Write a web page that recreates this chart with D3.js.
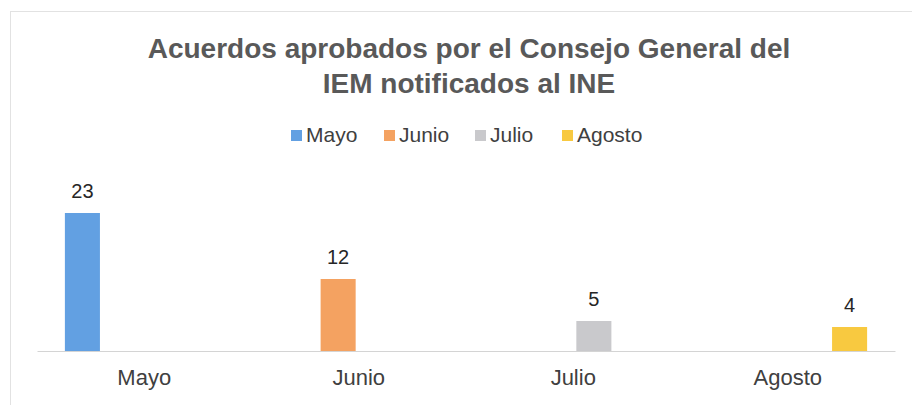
<!DOCTYPE html>
<html>
<head>
  <meta charset="utf-8">
  <title>Acuerdos aprobados</title>
  <script src="https://d3js.org/d3.v7.min.js"></script>
  <style>
    body { margin: 0; background: #fff; }
  </style>
</head>
<body>
  <div id="chart"></div>
  <script>
    // data
    const categories = ["Mayo", "Junio", "Julio", "Agosto"];
    const series = ["Mayo", "Junio", "Julio", "Agosto"];
    const values = [23, 12, 5, 4];          // one value per month, drawn in its own series slot
    const colors = ["#62a0e2", "#f4a261", "#c9c9cc", "#f8c940"];
    const titleLines = ["Acuerdos aprobados por el Consejo General del", "IEM notificados al INE"];

    const width = 912, height = 405;
    const baseY = 351;
    const font = "'Liberation Sans', Arial, sans-serif";

    const svg = d3.select("#chart")
      .append("svg")
      .attr("width", width)
      .attr("height", height)
      .style("font-family", font);

    // faint chart frame
    svg.append("rect")
      .attr("x", 10.5).attr("y", 11.5)
      .attr("width", 920).attr("height", 420)
      .attr("fill", "none")
      .attr("stroke", "#e2e2e2");

    // title
    svg.append("text")
      .attr("x", 469).attr("y", 58)
      .attr("text-anchor", "middle")
      .attr("font-size", 28)
      .attr("font-weight", "bold")
      .attr("fill", "#595959")
      .selectAll("tspan")
      .data(titleLines)
      .join("tspan")
      .attr("x", 469)
      .attr("dy", (d, i) => i === 0 ? 0 : 35)
      .text(d => d);

    // legend
    const legendX = [291, 384, 475, 562];
    const legend = svg.append("g");
    series.forEach((s, i) => {
      legend.append("rect")
        .attr("x", legendX[i]).attr("y", 130)
        .attr("width", 11).attr("height", 11)
        .attr("fill", colors[i]);
      legend.append("text")
        .attr("x", legendX[i] + 15).attr("y", 142)
        .attr("font-size", 21)
        .attr("fill", "#404040")
        .text(s);
    });

    // scales
    const x0 = d3.scaleBand()
      .domain(categories)
      .range([37, 895]);

    const x1 = d3.scaleBand()
      .domain(series)
      .range([25, x0.bandwidth() - 25])
      .paddingInner(0.15)
      .paddingOuter(0.07);

    const y = d3.scaleLinear()
      .domain([0, 25])
      .range([baseY, 201]);

    // x axis
    const xAxis = svg.append("g")
      .attr("transform", `translate(0,${baseY})`)
      .call(d3.axisBottom(x0).tickSize(0).tickPadding(18));
    xAxis.select(".domain").attr("stroke", "#d4d4d4");
    xAxis.selectAll("text")
      .attr("font-size", 22)
      .attr("font-family", font)
      .attr("fill", "#404040");

    // bars
    const bars = categories.map((c, i) => ({ cat: c, ser: series[i], value: values[i], color: colors[i] }));

    svg.selectAll(".bar")
      .data(bars)
      .join("rect")
      .attr("class", "bar")
      .attr("x", d => x0(d.cat) + x1(d.ser))
      .attr("y", d => y(d.value))
      .attr("width", x1.bandwidth())
      .attr("height", d => baseY - y(d.value))
      .attr("fill", d => d.color);

    // data labels
    svg.selectAll(".lbl")
      .data(bars)
      .join("text")
      .attr("class", "lbl")
      .attr("x", d => x0(d.cat) + x1(d.ser) + x1.bandwidth() / 2)
      .attr("y", d => y(d.value) - 15)
      .attr("text-anchor", "middle")
      .attr("font-size", 20)
      .attr("fill", "#262626")
      .text(d => d.value);
  </script>
</body>
</html>
